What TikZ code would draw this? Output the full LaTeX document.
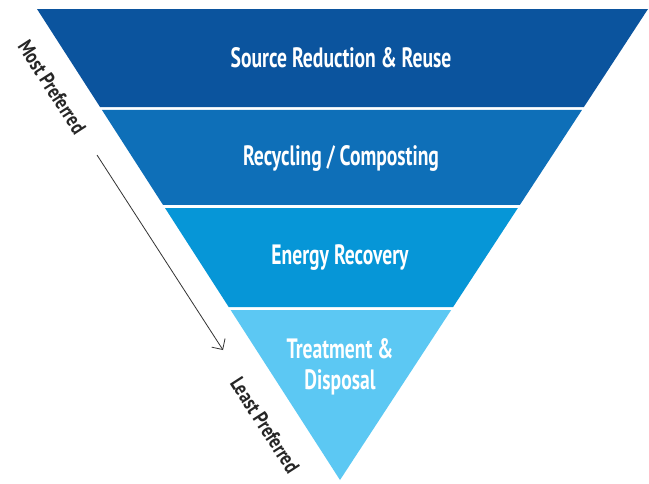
\documentclass[tikz,border=0pt]{standalone}
\usepackage{fontspec}
\setmainfont{PT Sans}
\usetikzlibrary{calc,arrows.meta}
\definecolor{cone}{RGB}{11,84,158}
\definecolor{ctwo}{RGB}{14,111,184}
\definecolor{cthree}{RGB}{6,150,215}
\definecolor{cfour}{RGB}{92,200,243}
\newcommand{\cond}[1]{\scalebox{0.70}[1]{#1}}
\newcommand{\sidecond}[1]{\scalebox{0.80}[1]{#1}}
\begin{document}
\begin{tikzpicture}[x=1pt,y=-1pt,
  lbl/.style={text=white,font=\bfseries\fontsize{28}{31}\selectfont,align=center,inner sep=0pt},
  side/.style={text=black!85,font=\bfseries\fontsize{21}{22}\selectfont,rotate=-57.2,inner sep=0pt},
  arr/.style={-{Straight Barb[length=8pt,width=16pt]},line width=0.8pt,black!80}]
\useasboundingbox (0,0) rectangle (649,483);
\fill[white] (0,0) rectangle (649,483);
\coordinate (TL) at (37,9);
\coordinate (TR) at (648,9);
\coordinate (A) at (340,480);
\fill[cone] (TL) -- (TR) -- ($(TR)!0.2081!(A)$) -- ($(TL)!0.2081!(A)$) -- cycle;
\fill[ctwo] ($(TL)!0.2144!(A)$) -- ($(TR)!0.2144!(A)$) -- ($(TR)!0.4161!(A)$) -- ($(TL)!0.4161!(A)$) -- cycle;
\fill[cthree] ($(TL)!0.4225!(A)$) -- ($(TR)!0.4225!(A)$) -- ($(TR)!0.6327!(A)$) -- ($(TL)!0.6327!(A)$) -- cycle;
\fill[cfour] ($(TL)!0.6391!(A)$) -- ($(TR)!0.6391!(A)$) -- (A) -- cycle;
\node[lbl] (l1) at (341,58) {\cond{Source Reduction \& Reuse}};
\node[lbl] (l2) at (341,158) {\cond{Recycling / Composting}};
\node[lbl] (l3) at (340,258) {\cond{Energy Recovery}};
\node[lbl] (l4) at (340,367) {\cond{Treatment \&}\\\cond{Disposal}};
\node[side] (most) at (52,87) {\sidecond{Most Preferred}};
\node[side] (least) at (265,425) {\sidecond{Least Preferred}};
\coordinate (s) at (97,155);
\coordinate (e) at (223,350);
\draw[arr] (s) -- (e);
\end{tikzpicture}
\end{document}
